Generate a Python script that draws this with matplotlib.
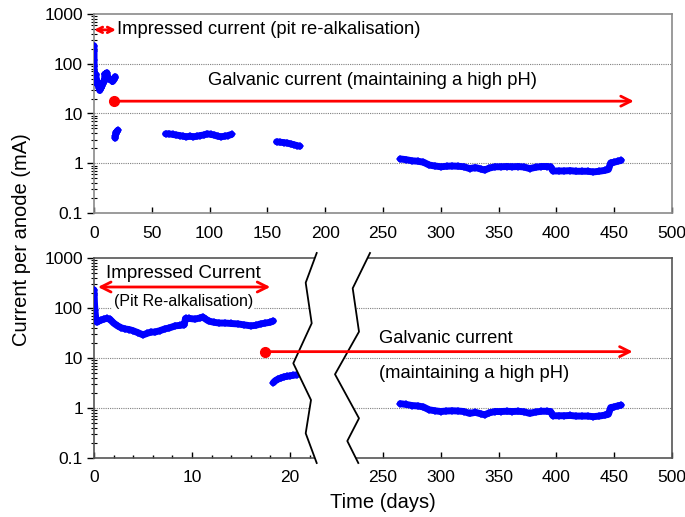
import numpy as np
import matplotlib
matplotlib.use("Agg")
import matplotlib.pyplot as plt
from matplotlib.ticker import FixedLocator, FuncFormatter, LogLocator, NullFormatter
from matplotlib.patches import Polygon
from matplotlib.lines import Line2D

plt.rcParams['font.family'] = ['Liberation Sans', 'DejaVu Sans']

# ---------------- data ----------------
# impressed current phase (pit re-alkalisation), days / mA
imp_t = [0, 0.02, 0.05, 0.1, 0.15, 0.2, 0.3, 0.5, 0.7, 1.0, 1.3, 1.6, 2.0, 2.4, 2.8, 3.2,
         3.6, 4.0, 4.5, 5.0, 5.4, 5.8, 6.2, 6.7, 7.2, 7.7, 8.3, 8.8, 9.2, 9.35, 9.7, 10.3,
         10.8, 11.1, 11.4, 11.7, 12.2, 12.8, 13.4, 14.0, 14.7, 15.3, 16.0, 16.5, 17.0,
         17.5, 18.0, 18.3]
imp_v = [230, 180, 120, 90, 70, 60, 52, 55, 57, 60, 62, 60, 50, 44, 40, 38,
         37, 35, 32, 29, 31, 33, 33, 35, 38, 40, 44, 45, 46, 62, 62, 60,
         63, 66, 60, 55, 52, 50, 50, 49, 48, 46, 44, 45, 48,
         50, 52, 55]

# galvanic current phase
gal1_t = [18.3, 18.5, 18.8, 19.1, 19.4, 19.7, 20.0, 20.3, 20.7]
gal1_v = [3.2, 3.5, 3.8, 4.0, 4.2, 4.3, 4.4, 4.5, 4.6]

gal2_t = [62, 65, 68, 71, 74, 77, 80, 83, 86, 89, 92, 95, 98, 101, 104, 107, 110, 113, 116, 119]
gal2_v = [3.9, 3.9, 3.8, 3.7, 3.6, 3.5, 3.4, 3.5, 3.4, 3.5, 3.6, 3.7, 3.9, 3.8, 3.7, 3.5,
          3.4, 3.5, 3.6, 3.8]

gal3_t = [158, 161, 164, 167, 170, 173, 176, 178]
gal3_v = [2.7, 2.65, 2.6, 2.55, 2.45, 2.35, 2.25, 2.2]

gal4_t = [265, 270, 275, 280, 285, 290, 295, 300, 305, 310, 315, 320, 325, 330, 335, 338,
          342, 347, 352, 357, 362, 367, 372, 377, 382, 387, 392, 395, 397, 402, 407, 412,
          417, 422, 427, 432, 437, 442, 445, 447, 450, 453, 456]
gal4_v = [1.22, 1.18, 1.12, 1.10, 1.05, 0.92, 0.88, 0.85, 0.87, 0.88, 0.87, 0.85, 0.78, 0.82,
          0.76, 0.73, 0.80, 0.85, 0.85, 0.86, 0.85, 0.86, 0.84, 0.78, 0.83, 0.86, 0.86, 0.85,
          0.70, 0.70, 0.70, 0.71, 0.69, 0.69, 0.69, 0.67, 0.69, 0.72, 0.75, 1.02, 1.05, 1.10,
          1.14]

y_ticks = [0.1, 1, 10, 100, 1000]
top_x_ticks = [0, 50, 100, 150, 200, 250, 300, 350, 400, 450, 500]
bot_x_ticks = [0, 10, 20, 250, 300, 350, 400, 450, 500]
bot_x_minor = [2, 4, 6, 8, 12, 14, 16, 18, 22]

BLUE = '#0000FF'
RED = '#FF0000'
GRID = '#808080'

fig = plt.figure(figsize=(6.85, 5.17), dpi=100)
W, H = 685, 517


def axrect(l, t, r, b):
    return [l / W, (H - b) / H, (r - l) / W, (b - t) / H]


ax1 = fig.add_axes(axrect(94, 14, 672, 213))
ax2 = fig.add_axes(axrect(94, 258, 672, 458))

# broken x scale for the lower panel (piecewise linear)
A_L, A_R = 9.8, 1.157
X1, X2 = 23.0, 230.0
U1 = X1 * A_L
U2 = 289.0 + (X2 - 250.0) * A_R
A_M = (U2 - U1) / (X2 - X1)


def fwd(x):
    x = np.asarray(x, dtype=float)
    return np.where(x <= X1, x * A_L,
                    np.where(x >= X2, 289.0 + (x - 250.0) * A_R, U1 + (x - X1) * A_M))


def inv(u):
    u = np.asarray(u, dtype=float)
    return np.where(u <= U1, u / A_L,
                    np.where(u >= U2, 250.0 + (u - 289.0) / A_R, X1 + (u - U1) / A_M))


fmt_y = FuncFormatter(lambda v, p: f'{v:g}')
fmt_x = FuncFormatter(lambda v, p: f'{v:g}')

for ax, sc in ((ax1, '#8a8a8a'), (ax2, '#555555')):
    ax.set_yscale('log')
    ax.set_ylim(0.1, 1000)
    ax.yaxis.set_major_locator(FixedLocator(y_ticks))
    ax.yaxis.set_major_formatter(fmt_y)
    ax.yaxis.set_minor_locator(LogLocator(base=10, subs=np.arange(2, 10)))
    ax.yaxis.set_minor_formatter(NullFormatter())
    for s in ax.spines.values():
        s.set_color(sc)
        s.set_linewidth(1.2)
    ax.tick_params(axis='y', which='major', direction='out', length=5, width=1,
                   color='black', labelsize=12.5, pad=3)
    ax.tick_params(axis='y', which='minor', direction='inout', length=5, width=0.8, color='black')
    ax.tick_params(axis='x', which='major', direction='in', length=4, width=1,
                   color='black', labelsize=12.5, pad=9)
    for gv in (1, 10, 100):
        ax.axhline(gv, color=GRID, lw=0.8, ls=(0, (1, 1)), zorder=1)

# ---------- top panel ----------
ax1.set_xlim(0, 500)
ax1.xaxis.set_major_locator(FixedLocator(top_x_ticks))
ax1.xaxis.set_major_formatter(fmt_x)
for t, v in ((imp_t, imp_v), (gal1_t, gal1_v), (gal2_t, gal2_v), (gal3_t, gal3_v), (gal4_t, gal4_v)):
    ax1.plot(t, v, color=BLUE, lw=5, marker='D', ms=4.5, mew=0, zorder=3,
             solid_capstyle='round')

ax1.annotate('', xy=(19, 480), xytext=(0, 480),
             arrowprops=dict(arrowstyle='<->', color=RED, lw=2, mutation_scale=10,
                             shrinkA=0, shrinkB=0), zorder=5)
ax1.text(20, 480, 'Impressed current (pit re-alkalisation)', fontsize=13.2,
         va='center', ha='left')
ax1.plot([17], [17.7], marker='o', color=RED, ms=7, zorder=5)
ax1.annotate('', xy=(467, 17.7), xytext=(17, 17.7),
             arrowprops=dict(arrowstyle='->', color=RED, lw=2, mutation_scale=18,
                             shrinkA=0, shrinkB=0), zorder=5)
ax1.text(99, 46, 'Galvanic current (maintaining a high pH)', fontsize=13.2,
         va='center', ha='left')

# ---------- bottom panel ----------
ax2.set_xscale('function', functions=(fwd, inv))
ax2.set_xlim(0, 500)
ax2.xaxis.set_major_locator(FixedLocator(bot_x_ticks))
ax2.xaxis.set_minor_locator(FixedLocator(bot_x_minor))
ax2.xaxis.set_major_formatter(fmt_x)
ax2.xaxis.set_minor_formatter(NullFormatter())
ax2.tick_params(axis='x', which='minor', direction='in', length=2.5, width=1, color='black')

for t, v in ((imp_t, imp_v), (gal1_t, gal1_v), (gal4_t, gal4_v)):
    ax2.plot(t, v, color=BLUE, lw=5, marker='D', ms=4.5, mew=0, zorder=3,
             solid_capstyle='round')

ax2.text(9.1, 500, 'Impressed Current', fontsize=13.5, va='center', ha='center', zorder=6)
ax2.annotate('', xy=(18.0, 263), xytext=(0.4, 263),
             arrowprops=dict(arrowstyle='<->', color=RED, lw=2, mutation_scale=18,
                             shrinkA=0, shrinkB=0), zorder=5)
ax2.text(9.1, 132, '(Pit Re-alkalisation)', fontsize=11.5, va='center', ha='center', zorder=6,
         bbox=dict(facecolor='white', edgecolor='none', pad=1))
ax2.plot([17.5], [13.4], marker='o', color=RED, ms=7, zorder=8, clip_on=False)
ax2.annotate('', xy=(466, 13.4), xytext=(17.5, 13.4),
             arrowprops=dict(arrowstyle='->', color=RED, lw=2, mutation_scale=18,
                             shrinkA=0, shrinkB=0), zorder=8)
ax2.text(247, 24, 'Galvanic current', fontsize=13.2, va='center', ha='left')
ax2.text(247, 5.0, '(maintaining a high pH)', fontsize=13.2, va='center', ha='left')

# break marks (in axes fraction, from pixel positions)
def to_frac(pts):
    return [((px - 94) / 578.0, (458 - py) / 200.0) for px, py in pts]

left_zz = [(316.7, 253), (305.7, 282.7), (311.7, 323.3), (293.3, 363.3), (311, 400),
           (305.7, 433.3), (316.7, 463)]
right_zz = [(370, 253), (352.7, 288.3), (359, 331.7), (335, 374.3), (359, 418.3),
            (347.3, 441), (358.3, 463)]
poly = to_frac(left_zz) + to_frac(right_zz)[::-1]
ax2.add_patch(Polygon(poly, closed=True, transform=ax2.transAxes, facecolor='white',
                      edgecolor='none', zorder=7, clip_on=False))
for zz in (left_zz, right_zz):
    f = to_frac(zz)
    ax2.add_line(Line2D([p[0] for p in f], [p[1] for p in f], transform=ax2.transAxes,
                        color='black', lw=1.3, zorder=7.5, clip_on=False))

fig.text(22 / W, 1 - 240 / H, 'Current per anode (mA)', rotation=90, fontsize=14.5,
         va='center', ha='center')
fig.text(383 / W, 1 - 503 / H, 'Time (days)', fontsize=14.5, va='center', ha='center')

fig.savefig('out.png', dpi=100)
